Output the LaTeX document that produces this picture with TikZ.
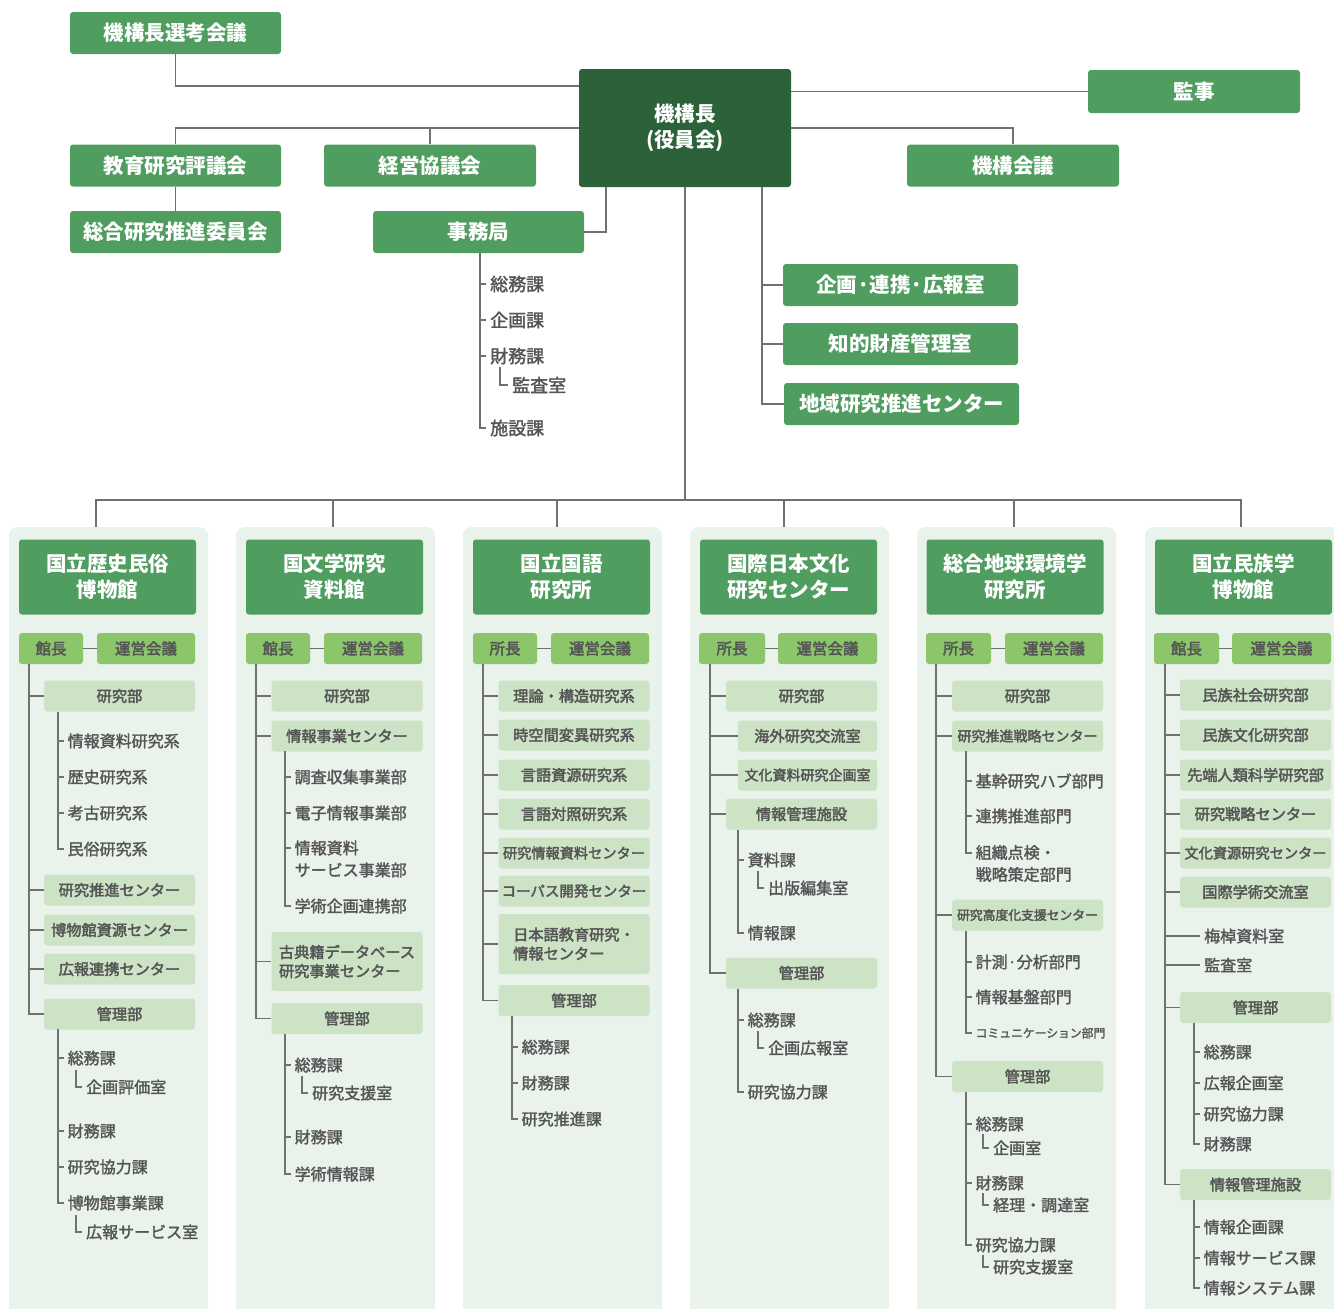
\documentclass[tikz,border=0pt]{standalone}
\usepackage{fontspec}
\setmainfont{Noto Sans CJK JP}
\newfontfamily\medfont{Noto Sans CJK JP}[FakeBold=1.8]
\newfontfamily\boxfont{Noto Sans CJK JP}[FakeBold=2.6]
\definecolor{gmid}{RGB}{80,157,96}
\definecolor{gdark}{RGB}{44,98,58}
\definecolor{glight}{RGB}{139,198,106}
\definecolor{gpale}{RGB}{204,228,197}
\definecolor{gpanel}{RGB}{233,242,235}
\definecolor{txtgray}{RGB}{85,85,85}
\definecolor{linegray}{RGB}{112,112,112}
\tikzset{
 ln/.style={draw=linegray, line width=1.3pt},
 topbox/.style={fill=gmid, rounded corners=3pt, text=white, font=\bfseries\fontsize{20.5}{26}\selectfont, minimum width=211pt, minimum height=42pt, inner sep=0pt, align=center},
 darkbox/.style={topbox, fill=gdark},
 rbox/.style={topbox, minimum width=235pt},
 panel/.style={fill=gpanel, rounded corners=8pt, minimum width=199pt, minimum height=800pt, inner sep=0pt, anchor=north},
 hdr/.style={topbox, minimum width=177pt, minimum height=75pt},
 chief/.style={fill=glight, rounded corners=3pt, text=txtgray, font=\boxfont\fontsize{15.5}{18}\selectfont, minimum height=31pt, inner sep=0pt},
 subbox/.style={fill=gpale, rounded corners=3pt, text=txtgray, font=\boxfont\fontsize{15.2}{19}\selectfont, minimum width=151pt, minimum height=31pt, inner sep=0pt, align=center},
 item/.style={anchor=west, inner xsep=4pt, inner ysep=1pt, text=txtgray, font=\medfont\fontsize{16}{22}\selectfont, align=left},
 jitem/.style={item, font=\medfont\fontsize{18}{21}\selectfont},
}
\begin{document}
\begin{tikzpicture}[x=1pt,y=-1pt]
\useasboundingbox (0,0) rectangle (1334,1309);
\fill[white] (0,0) rectangle (1334,1309);

% ---------- top ----------
\node[topbox] (sel) at (175.5,33) {機構長選考会議};
\node[darkbox, minimum width=212pt, minimum height=118pt] (top) at (685,128) {機構長\\(役員会)};
\node[topbox, minimum width=212pt, minimum height=43pt] (kanji) at (1194,91.5) {監事};
\node[topbox] (kyo) at (175.5,165.5) {教育研究評議会};
\node[topbox, minimum width=212pt] (kei) at (430,165.5) {経営協議会};
\node[topbox, minimum width=212pt] (kk) at (1013,165.5) {機構会議};
\node[topbox] (sogo) at (175.5,232) {総合研究推進委員会};
\node[topbox] (jim) at (478.5,232) {事務局};
\node[rbox] (r1) at (900.5,285) {企画·連携·広報室};
\node[rbox] (r2) at (900.5,344) {知的財産管理室};
\node[rbox] (r3) at (901.5,404) {地域研究推進センター};

\coordinate (y86) at (0,86);
\draw[ln] (sel.south) |- (top.west |- y86);
\draw[ln] (kanji.west) -- (top.east |- kanji.west);
\draw[ln] (kyo.north) |- (top.west);
\draw[ln] (kei.north) |- (top.west);
\draw[ln] (kk.north) |- (top.east);
\draw[ln] (kyo) -- (sogo);
\coordinate (tj) at (606,187);
\draw[ln] (tj) |- (jim.east);
\coordinate (tr) at (762,187);
\foreach \n in {r1,r2,r3} \draw[ln] (tr) |- (\n.west);

% 事務局 list
\coordinate (cj) at (480,253);
\node[jitem] (j1) at (486,284) {総務課};
\node[jitem] (j2) at (486,320) {企画課};
\node[jitem] (j3) at (486,356) {財務課};
\node[jitem] (j4) at (508,385) {監査室};
\node[jitem] (j5) at (486,428) {施設課};
\foreach \n in {j1,j2,j3,j5} \draw[ln] (cj) |- (\n.west);
\coordinate (cj3) at (500,367);
\draw[ln] (cj3) |- (j4.west);

% ---------- panels ----------
\node[panel] (p1) at (108.5,527) {};
\node[panel] (p2) at (335.5,527) {};
\node[panel] (p3) at (562.5,527) {};
\node[panel] (p4) at (789.5,527) {};
\node[panel] (p5) at (1016.5,527) {};
\node[panel] (p6) at (1244.5,527) {};

\coordinate (bus) at (685,500);
\draw[ln] (top.south) -- (bus);
\coordinate (d1) at (96,527);
\coordinate (d2) at (333,527);
\coordinate (d3) at (557,527);
\coordinate (d4) at (784,527);
\coordinate (d5) at (1014,527);
\coordinate (d6) at (1241,527);
\foreach \n in {d1,d2,d3,d4,d5,d6} \draw[ln] (\n) |- (bus);

% ---------- P1 ----------
\node[hdr] (h1) at (107.5,577) {国立歴史民俗\\博物館};
\node[chief, minimum width=64pt] (k1) at (51,648.5) {館長};
\node[chief, minimum width=98pt] (u1) at (146,648.5) {運営会議};
\draw[ln] (k1) -- (u1);
\coordinate (t1) at (29,664);
\node[subbox] (s1a) at (119.5,696) {研究部};
\node[subbox] (s1b) at (119.5,890) {研究推進センター};
\node[subbox] (s1c) at (119.5,930) {博物館資源センター};
\node[subbox] (s1d) at (119.5,969) {広報連携センター};
\node[subbox] (s1e) at (119.5,1014) {管理部};
\foreach \n in {s1a,s1b,s1c,s1d,s1e} \draw[ln] (t1) |- (\n.west);
\coordinate (v1a) at (58,712);
\node[item] (i1a1) at (63.5,741) {情報資料研究系};
\node[item] (i1a2) at (63.5,777) {歴史研究系};
\node[item] (i1a3) at (63.5,813) {考古研究系};
\node[item] (i1a4) at (63.5,849) {民俗研究系};
\foreach \n in {i1a1,i1a2,i1a3,i1a4} \draw[ln] (v1a) |- (\n.west);
\coordinate (v1e) at (58,1029);
\node[item] (i1e1) at (63.5,1058) {総務課};
\node[item] (i1e2) at (82,1087) {企画評価室};
\node[item] (i1e3) at (63.5,1131) {財務課};
\node[item] (i1e4) at (63.5,1167) {研究協力課};
\node[item] (i1e5) at (63.5,1203) {博物館事業課};
\node[item] (i1e6) at (82,1232) {広報サービス室};
\foreach \n in {i1e1,i1e3,i1e4,i1e5} \draw[ln] (v1e) |- (\n.west);
\coordinate (q1a) at (76,1070);
\coordinate (q1b) at (76,1215);
\draw[ln] (q1a) |- (i1e2.west);
\draw[ln] (q1b) |- (i1e6.west);

% ---------- P2 ----------
\node[hdr] (h2) at (334.5,577) {国文学研究\\資料館};
\node[chief, minimum width=64pt] (k2) at (278,648.5) {館長};
\node[chief, minimum width=98pt] (u2) at (373,648.5) {運営会議};
\draw[ln] (k2) -- (u2);
\coordinate (t2) at (256,664);
\node[subbox] (s2a) at (347,696) {研究部};
\node[subbox] (s2b) at (347,736) {情報事業センター};
\node[subbox, minimum height=59pt, align=left] (s2c) at (347,961.5) {古典籍データベース\\研究事業センター};
\node[subbox] (s2d) at (347,1018.5) {管理部};
\foreach \n in {s2a,s2b,s2c,s2d} \draw[ln] (t2) |- (\n.west);
\coordinate (v2b) at (285,751);
\node[item] (i2b1) at (290.5,777) {調査収集事業部};
\node[item] (i2b2) at (290.5,813) {電子情報事業部};
\coordinate (c2b3) at (290.5,848);
\node[item] (i2b3) at (290.5,859) {情報資料\\サービス事業部};
\node[item] (i2b4) at (290.5,906) {学術企画連携部};
\foreach \n in {i2b1,i2b2,i2b4} \draw[ln] (v2b) |- (\n.west);
\draw[ln] (v2b) |- (c2b3);
\coordinate (v2d) at (285,1034);
\node[item] (i2d1) at (290.5,1065) {総務課};
\node[item] (i2d2) at (308,1093) {研究支援室};
\node[item] (i2d3) at (290.5,1137) {財務課};
\node[item] (i2d4) at (290.5,1174) {学術情報課};
\foreach \n in {i2d1,i2d3,i2d4} \draw[ln] (v2d) |- (\n.west);
\coordinate (q2a) at (302,1076);
\draw[ln] (q2a) |- (i2d2.west);

% ---------- P3 ----------
\node[hdr] (h3) at (561.5,577) {国立国語\\研究所};
\node[chief, minimum width=64pt] (k3) at (505,648.5) {所長};
\node[chief, minimum width=98pt] (u3) at (600,648.5) {運営会議};
\draw[ln] (k3) -- (u3);
\coordinate (t3) at (483,664);
\node[subbox] (s3a) at (574,696) {理論・構造研究系};
\node[subbox] (s3b) at (574,735) {時空間変異研究系};
\node[subbox] (s3c) at (574,775) {言語資源研究系};
\node[subbox] (s3d) at (574,814) {言語対照研究系};
\node[subbox, font=\boxfont\fontsize{14.2}{18}\selectfont] (s3e) at (574,853) {研究情報資料センター};
\node[subbox, font=\boxfont\fontsize{14.5}{18}\selectfont] (s3f) at (574,891) {コーパス開発センター};
\node[subbox, minimum height=60pt, align=left] (s3g) at (574,944) {日本語教育研究・\\情報センター};
\node[subbox] (s3h) at (574,1000.5) {管理部};
\foreach \n in {s3a,s3b,s3c,s3d,s3e,s3f,s3g,s3h} \draw[ln] (t3) |- (\n.west);
\coordinate (v3h) at (512,1016);
\node[item] (i3h1) at (517.5,1047) {総務課};
\node[item] (i3h2) at (517.5,1083) {財務課};
\node[item] (i3h3) at (517.5,1119) {研究推進課};
\foreach \n in {i3h1,i3h2,i3h3} \draw[ln] (v3h) |- (\n.west);

% ---------- P4 ----------
\node[hdr] (h4) at (788.5,577) {国際日本文化\\研究センター};
\node[chief, minimum width=66pt] (k4) at (732,648.5) {所長};
\node[chief, minimum width=99pt] (u4) at (827.5,648.5) {運営会議};
\draw[ln] (k4) -- (u4);
\coordinate (t4) at (710,664);
\node[subbox] (s4a) at (801.5,696) {研究部};
\node[subbox, minimum width=139pt] (s4b) at (807.5,736) {海外研究交流室};
\node[subbox, minimum width=139pt, font=\boxfont\fontsize{14}{18}\selectfont] (s4c) at (807.5,775) {文化資料研究企画室};
\node[subbox] (s4d) at (801.5,814) {情報管理施設};
\node[subbox] (s4e) at (801.5,973) {管理部};
\foreach \n in {s4a,s4b,s4c,s4d,s4e} \draw[ln] (t4) |- (\n.west);
\coordinate (v4d) at (738,830);
\node[item] (i4d1) at (743.5,860) {資料課};
\node[item] (i4d2) at (764,888) {出版編集室};
\node[item] (i4d3) at (743.5,933) {情報課};
\foreach \n in {i4d1,i4d3} \draw[ln] (v4d) |- (\n.west);
\coordinate (q4a) at (758,871);
\draw[ln] (q4a) |- (i4d2.west);
\coordinate (v4e) at (738,989);
\node[item] (i4e1) at (743.5,1020) {総務課};
\node[item] (i4e2) at (764,1048) {企画広報室};
\node[item] (i4e3) at (743.5,1092) {研究協力課};
\foreach \n in {i4e1,i4e3} \draw[ln] (v4e) |- (\n.west);
\coordinate (q4b) at (758,1031);
\draw[ln] (q4b) |- (i4e2.west);

% ---------- P5 ----------
\node[hdr] (h5) at (1015,577) {総合地球環境学\\研究所};
\node[chief, minimum width=65pt] (k5) at (958.5,648.5) {所長};
\node[chief, minimum width=98pt] (u5) at (1054,648.5) {運営会議};
\draw[ln] (k5) -- (u5);
\coordinate (t5) at (936,664);
\node[subbox] (s5a) at (1027.5,696) {研究部};
\node[subbox, font=\boxfont\fontsize{14}{18}\selectfont] (s5b) at (1027.5,736) {研究推進戦略センター};
\node[subbox, font=\boxfont\fontsize{12.8}{18}\selectfont] (s5c) at (1027.5,915) {研究高度化支援センター};
\node[subbox] (s5d) at (1027.5,1076.5) {管理部};
\foreach \n in {s5a,s5b,s5c,s5d} \draw[ln] (t5) |- (\n.west);
\coordinate (v5b) at (966,751);
\node[item] (i5b1) at (971.5,781) {基幹研究ハブ部門};
\node[item] (i5b2) at (971.5,816) {連携推進部門};
\coordinate (c5b3) at (971.5,853);
\node[item] (i5b3) at (971.5,863.5) {組織点検・\\戦略策定部門};
\foreach \n in {i5b1,i5b2} \draw[ln] (v5b) |- (\n.west);
\draw[ln] (v5b) |- (c5b3);
\coordinate (v5c) at (966,931);
\node[item] (i5c1) at (971.5,962) {計測·分析部門};
\node[item] (i5c2) at (971.5,997) {情報基盤部門};
\node[item, font=\medfont\fontsize{11.8}{16}\selectfont] (i5c3) at (971.5,1033) {コミュニケーション部門};
\foreach \n in {i5c1,i5c2,i5c3} \draw[ln] (v5c) |- (\n.west);
\coordinate (v5d) at (966,1092);
\node[item] (i5d1) at (971.5,1124) {総務課};
\node[item] (i5d2) at (989,1148) {企画室};
\node[item] (i5d3) at (971.5,1183) {財務課};
\node[item] (i5d4) at (989,1205) {経理・調達室};
\node[item] (i5d5) at (971.5,1245) {研究協力課};
\node[item] (i5d6) at (989,1267) {研究支援室};
\foreach \n in {i5d1,i5d3,i5d5} \draw[ln] (v5d) |- (\n.west);
\coordinate (q5a) at (983,1134);
\coordinate (q5b) at (983,1193);
\coordinate (q5c) at (983,1255);
\draw[ln] (q5a) |- (i5d2.west);
\draw[ln] (q5b) |- (i5d4.west);
\draw[ln] (q5c) |- (i5d6.west);

% ---------- P6 ----------
\node[hdr] (h6) at (1243.5,577) {国立民族学\\博物館};
\node[chief, minimum width=65pt] (k6) at (1186.5,648.5) {館長};
\node[chief, minimum width=99pt] (u6) at (1281.5,648.5) {運営会議};
\draw[ln] (k6) -- (u6);
\coordinate (t6) at (1165,664);
\node[subbox] (s6a) at (1255.5,695) {民族社会研究部};
\node[subbox] (s6b) at (1255.5,735) {民族文化研究部};
\node[subbox] (s6c) at (1255.5,775) {先端人類科学研究部};
\node[subbox] (s6d) at (1255.5,814) {研究戦略センター};
\node[subbox, font=\boxfont\fontsize{14.2}{18}\selectfont] (s6e) at (1255.5,853) {文化資源研究センター};
\node[subbox] (s6f) at (1255.5,892) {国際学術交流室};
\node[item] (i6x1) at (1200,936) {梅棹資料室};
\node[item] (i6x2) at (1200,965) {監査室};
\node[subbox] (s6g) at (1255.5,1007.5) {管理部};
\node[subbox] (s6h) at (1255.5,1184.5) {情報管理施設};
\foreach \n in {s6a,s6b,s6c,s6d,s6e,s6f,i6x1,i6x2,s6g,s6h} \draw[ln] (t6) |- (\n.west);
\coordinate (v6g) at (1194,1023);
\node[item] (i6g1) at (1199.5,1052) {総務課};
\node[item] (i6g2) at (1199.5,1083) {広報企画室};
\node[item] (i6g3) at (1199.5,1114) {研究協力課};
\node[item] (i6g4) at (1199.5,1144) {財務課};
\foreach \n in {i6g1,i6g2,i6g3,i6g4} \draw[ln] (v6g) |- (\n.west);
\coordinate (v6h) at (1194,1200);
\node[item] (i6h1) at (1199.5,1227) {情報企画課};
\node[item] (i6h2) at (1199.5,1258) {情報サービス課};
\node[item] (i6h3) at (1199.5,1288) {情報システム課};
\foreach \n in {i6h1,i6h2,i6h3} \draw[ln] (v6h) |- (\n.west);
\end{tikzpicture}
\end{document}
